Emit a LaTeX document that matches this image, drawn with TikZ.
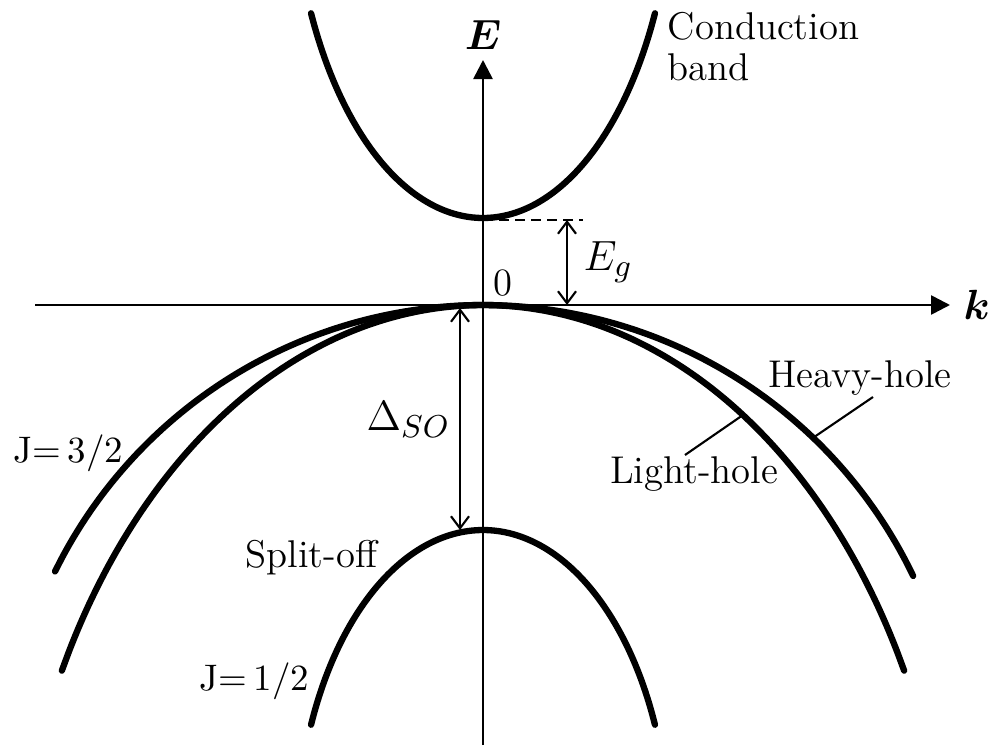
\documentclass[tikz,border=0pt]{standalone}
\usepackage{amsmath,amssymb}
\usepackage{tikz}
\usetikzlibrary{positioning, arrows.meta}

\begin{document}
\begin{tikzpicture}[
    x=0.01cm, y=-0.01cm,
    band/.style={line width=1.8pt, line cap=round},
    axis/.style={line width=0.75pt, -{Triangle[length=1.9mm, width=1.9mm]}},
    gap/.style={line width=0.6pt, {Straight Barb[length=1.2mm, width=1.8mm]}-{Straight Barb[length=1.2mm, width=1.8mm]}},
    lead/.style={line width=0.6pt},
    lbl/.style={font=\fontsize{11}{11.4}\selectfont, inner sep=0pt},
    jlbl/.style={lbl, font=\fontsize{10.5}{11}\selectfont},
    sym/.style={font=\fontsize{12.5}{14}\selectfont, inner sep=0pt},
]
\useasboundingbox (0,0) rectangle (1000,745);

% Axes E and k
\coordinate (o) at (483,305);
\coordinate (kstart) at (35,305);
\coordinate (kend) at (950,305);
\coordinate (estart) at (483,745);
\coordinate (eend) at (483,60);
\draw[axis] (kstart) -- (kend);
\draw[axis] (estart) -- (eend);
\node[sym, above=0.1cm of eend] (elbl) {$\boldsymbol{E}$};
\node[sym, right=0.13cm of kend] (klbl) {$\boldsymbol{k}$};
\node[lbl, above right=0.08cm and 0.1cm of o] (zero) {0};

% Bands
\draw[band] plot[variable=\t, domain=-63.9:63.9, samples=60, smooth]
    ({483+191.5*sin(\t)}, {218-365.5*(1-cos(\t))});
\draw[band] plot[variable=\t, domain=-63.8:64.4, samples=60, smooth]
    ({483+477*sin(\t)}, {305+477*(1-cos(\t))});
\draw[band] plot[variable=\t, domain=-63.4:63.4, samples=60, smooth]
    ({483+471*sin(\t)}, {305+662*(1-cos(\t))});
\draw[band] plot[variable=\t, domain=-67:67, samples=60, smooth]
    ({483+186.8*sin(\t)}, {530+319.6*(1-cos(\t))});

% Band gap
\coordinate (cbmin) at (483,220);
\coordinate (egend) at (583,220);
\coordinate (egtop) at (567,220);
\coordinate (egbot) at (567,305);
\draw[lead, dash pattern=on 1mm off 0.6mm] (cbmin) -- (egend);
\draw[gap] (egtop) -- (egbot);
\node[sym, anchor=base west] (eglbl) at (583,270) {$E_g$};

% Spin-orbit splitting
\coordinate (sotop) at (460,308);
\coordinate (sobot) at (460,530);
\draw[gap] (sotop) -- (sobot);
\node[sym, anchor=base west] (solbl) at (366,430) {$\Delta_{SO}$};

% Labels
\node[lbl, anchor=north west, align=left] (cb) at (667,12) {Conduction\\band};
\node[lbl, anchor=base] (hh) at (860,387) {Heavy-hole};
\node[lbl, anchor=base] (lh) at (694,483) {Light-hole};
\node[jlbl, anchor=base west] (j32) at (13,462) {J=\,3/2};
\node[lbl, anchor=base west] (so) at (245,567) {Split-off};
\node[jlbl, anchor=base west] (j12) at (199,690) {J=\,1/2};

% Leader lines
\coordinate (hhtail) at (873,397);
\coordinate (hhpt) at ({483+477*sin(43.8)}, {305+477*(1-cos(43.8))});
\coordinate (lhtail) at (685,455);
\coordinate (lhpt) at ({483+471*sin(33.5)}, {305+662*(1-cos(33.5))});
\draw[lead] (hhtail) -- (hhpt);
\draw[lead] (lhtail) -- (lhpt);

\end{tikzpicture}
\end{document}
